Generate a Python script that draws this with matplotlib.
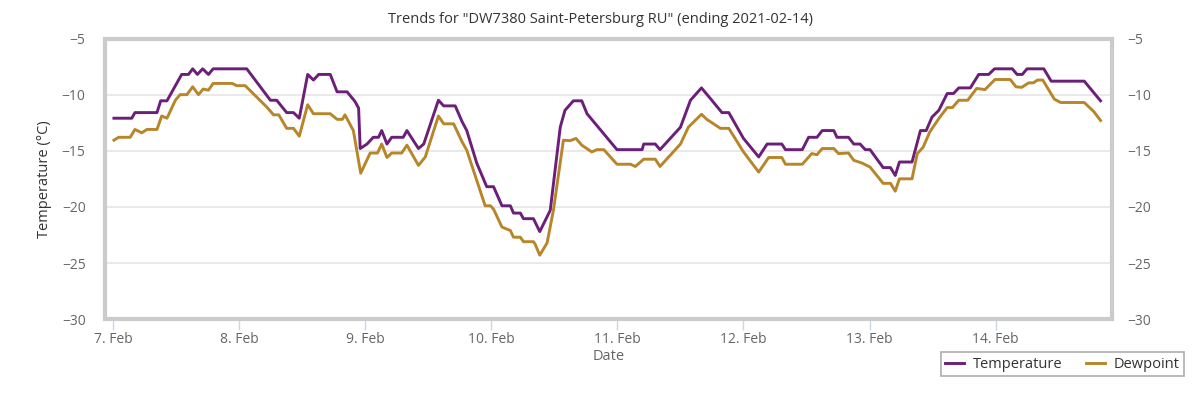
import datetime
import numpy as np
import pandas as pd
import matplotlib
matplotlib.use('Agg')
import matplotlib.pyplot as plt
import matplotlib.dates as mdates
from matplotlib.ticker import FuncFormatter

plt.rcParams['font.family'] = ['Open Sans', 'DejaVu Sans']

start = datetime.datetime(2021, 2, 7)

# hours since 7 Feb 00:00 and values in degC
temp_hours = [0.1, 3.5, 4.1, 8.3, 9.0, 10.2, 13.0, 14.3, 15.1, 16.0, 17.0, 18.1, 19.0, 25.4,
              29.9, 31.1, 33.0, 34.3, 35.4, 37.0, 38.1, 39.1, 41.3, 42.6, 44.5, 46.0, 46.7,
              47.0, 48.3, 49.5, 50.5, 51.1, 52.1, 53.0, 55.2, 55.9, 58.1, 59.1, 61.9, 62.9,
              65.1, 66.4, 67.3, 69.2, 71.1, 72.4, 74.0, 75.6, 76.2, 77.5, 78.1, 80.0, 81.2,
              83.2, 85.1, 86.0, 87.6, 89.2, 90.2, 95.9, 100.7, 101.0, 103.2, 104.1, 108.0,
              109.9, 112.0, 113.7, 115.9, 117.2, 120.0, 122.9, 124.5, 127.3, 128.0, 131.2,
              132.4, 134.0, 135.0, 137.2, 137.8, 140.0, 141.0, 142.2, 143.2, 144.1, 146.6,
              148.0, 148.9, 149.7, 152.1, 153.7, 154.8, 155.9, 157.2, 158.8, 160.0, 161.0,
              163.2, 164.8, 166.7, 167.8, 171.2, 172.1, 173.1, 174.0, 177.2, 178.6, 184.9,
              188.0]
temp_vals = [-12.1, -12.1, -11.6, -11.6, -10.55, -10.55, -8.2, -8.2, -7.7, -8.2, -7.7, -8.2,
             -7.7, -7.7, -10.5, -10.5, -11.6, -11.6, -12.1, -8.2, -8.7, -8.2, -8.2, -9.75,
             -9.75, -10.6, -11.2, -14.8, -14.4, -13.8, -13.8, -13.2, -14.4, -13.8, -13.8,
             -13.2, -14.8, -14.4, -10.5, -11.0, -11.0, -12.4, -13.2, -16.1, -18.2, -18.2,
             -19.9, -19.9, -20.55, -20.55, -21.05, -21.05, -22.2, -20.3, -12.9, -11.4,
             -10.55, -10.55, -11.7, -14.9, -14.9, -14.4, -14.4, -14.9, -12.9, -10.5, -9.4,
             -10.35, -11.6, -11.6, -13.9, -15.55, -14.4, -14.4, -14.9, -14.9, -13.8, -13.8,
             -13.2, -13.2, -13.8, -13.8, -14.4, -14.4, -14.9, -14.9, -16.5, -16.5, -17.2,
             -16.0, -16.0, -13.2, -13.2, -12.0, -11.4, -9.9, -9.9, -9.4, -9.4, -8.2, -8.2,
             -7.7, -7.7, -8.2, -8.2, -7.7, -7.7, -8.8, -8.8, -10.55]

dew_hours = [0.1, 1.0, 3.2, 4.1, 5.4, 6.4, 8.3, 9.2, 10.2, 11.8, 12.7, 14.0, 15.1, 16.2,
             17.1, 18.1, 19.0, 22.6, 23.5, 25.1, 29.2, 30.5, 31.5, 33.0, 34.3, 35.4, 37.0,
             38.1, 41.3, 42.6, 43.6, 44.1, 45.7, 47.1, 48.9, 50.3, 51.1, 52.1, 53.0, 54.9,
             55.9, 58.1, 59.4, 61.9, 62.9, 64.8, 66.4, 67.3, 70.8, 71.8, 72.4, 74.0, 75.6,
             76.2, 77.5, 78.1, 80.0, 80.3, 81.2, 82.6, 83.8, 85.7, 87.0, 88.1, 89.2, 91.1,
             92.1, 93.4, 95.9, 98.5, 99.4, 101.0, 103.2, 104.1, 108.0, 109.5, 112.0, 113.0,
             115.6, 117.2, 120.0, 122.9, 124.8, 127.3, 128.0, 131.2, 133.0, 134.0, 135.0,
             137.2, 138.1, 140.0, 141.0, 142.6, 144.1, 146.6, 148.0, 148.9, 149.7, 152.1,
             153.1, 154.2, 155.5, 157.4, 158.8, 159.8, 161.0, 162.7, 164.4, 166.0, 167.9,
             170.8, 171.9, 173.0, 174.3, 175.2, 176.0, 177.0, 179.2, 180.4, 184.9, 186.7,
             188.0]
dew_vals = [-14.06, -13.8, -13.8, -13.1, -13.4, -13.1, -13.1, -11.9, -12.1, -10.5, -10.0,
            -10.0, -9.3, -10.0, -9.5, -9.6, -9.0, -9.0, -9.2, -9.2, -11.1, -11.8, -11.8,
            -13.0, -13.0, -13.7, -10.9, -11.7, -11.7, -12.2, -12.2, -11.8, -13.2, -17.0,
            -15.2, -15.2, -14.4, -15.6, -15.2, -15.2, -14.5, -16.3, -15.55, -11.9, -12.6,
            -12.6, -14.2, -14.95, -19.9, -19.9, -20.2, -21.8, -22.1, -22.7, -22.7, -23.1,
            -23.1, -23.3, -24.3, -23.2, -20.3, -14.06, -14.1, -13.9, -14.5, -15.1, -14.9,
            -14.9, -16.2, -16.2, -16.4, -15.75, -15.75, -16.4, -14.4, -12.9, -11.75, -12.2,
            -13.0, -13.0, -15.1, -16.9, -15.6, -15.6, -16.2, -16.2, -15.25, -15.35, -14.8,
            -14.8, -15.25, -15.2, -15.85, -16.1, -16.45, -17.9, -17.9, -18.6, -17.5, -17.5,
            -15.25, -14.7, -13.3, -12.0, -11.15, -11.15, -10.5, -10.5, -9.45, -9.55, -8.65,
            -8.65, -9.3, -9.35, -8.95, -8.95, -8.7, -8.7, -10.4, -10.7, -10.7, -11.5, -12.3]

temp_times = [start + datetime.timedelta(hours=h) for h in temp_hours]
dew_times = [start + datetime.timedelta(hours=h) for h in dew_hours]

temp_color = '#6c1f78'
dew_color = '#b7862a'

fig = plt.figure(figsize=(12, 3.95), dpi=100)
ax = fig.add_axes([0.0875, 0.192, 0.8388, 0.7105])

ax.plot(temp_times, temp_vals, color=temp_color, lw=2.1, label='Temperature', zorder=3)
ax.plot(dew_times, dew_vals, color=dew_color, lw=2.1, label='Dewpoint', zorder=3)

ax.set_ylim(-30, -5)
ax.set_yticks([-30, -25, -20, -15, -10, -5])
ax.set_xlim(start - datetime.timedelta(hours=1.6), start + datetime.timedelta(hours=190.1))

ax.grid(axis='y', color='#e3e3e3', lw=1.1)
ax.set_axisbelow(True)
for s in ax.spines.values():
    s.set_color('#cbcbcb')
    s.set_linewidth(3)

ax.xaxis.set_major_locator(mdates.DayLocator())
ax.xaxis.set_major_formatter(FuncFormatter(lambda v, p: f"{mdates.num2date(v).day}. Feb"))
ax.tick_params(axis='x', colors='#ccd6eb', length=8, width=1, labelcolor='#666666',
               labelsize=10, pad=1)
ax.tick_params(axis='y', length=0, labelcolor='#666666', labelsize=10, pad=14)

yfmt = FuncFormatter(lambda v, p: f"\u2212{abs(int(v))}")
ax.yaxis.set_major_formatter(yfmt)

ax2 = ax.twinx()
ax2.set_ylim(ax.get_ylim())
ax2.set_yticks([-30, -25, -20, -15, -10, -5])
ax2.yaxis.set_major_formatter(yfmt)
ax2.tick_params(axis='y', length=0, labelcolor='#666666', labelsize=10, pad=11.5)
for s in ax2.spines.values():
    s.set_visible(False)

ax.set_ylabel('Temperature (°C)', fontsize=10.5, color='#333333', labelpad=7)
ax.set_xlabel('Date', fontsize=10.5, color='#666666', labelpad=2)
fig.suptitle('Trends for "DW7380 Saint-Petersburg RU" (ending 2021-02-14)', fontsize=10.5,
             color='#333333', y=0.97)

leg = ax.legend(loc='upper right', bbox_to_anchor=(1.0716, -0.118), ncol=2, frameon=True,
                fancybox=False, fontsize=10.5, handlelength=1.3, columnspacing=1.6,
                borderpad=0.3, handletextpad=0.6, borderaxespad=0)
leg.get_frame().set_edgecolor('#999999')
leg.get_frame().set_linewidth(1.2)
for t in leg.get_texts():
    t.set_color('#333333')

fig.savefig('out.png', dpi=100)
